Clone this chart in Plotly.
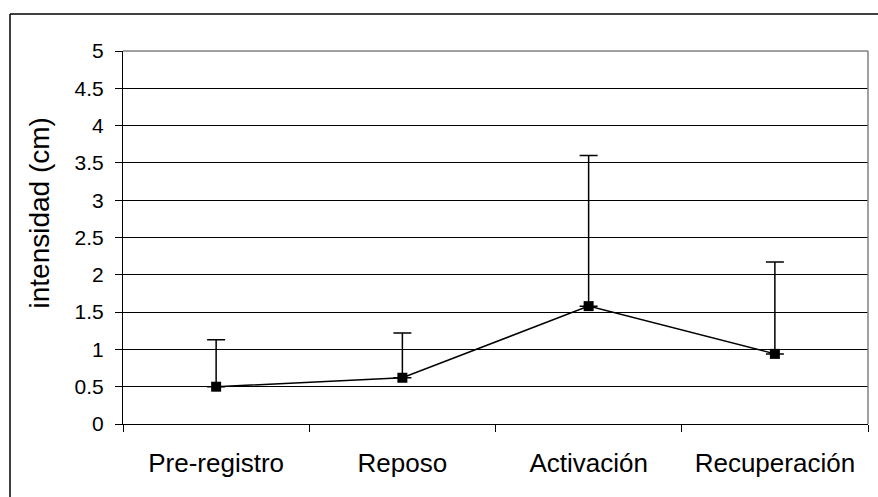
import plotly.graph_objects as go

categories = ["Pre-registro", "Reposo", "Activación", "Recuperación"]
means = [0.50, 0.62, 1.58, 0.94]
err_plus = [0.63, 0.60, 2.02, 1.23]
y_ticks = [0, 0.5, 1, 1.5, 2, 2.5, 3, 3.5, 4, 4.5, 5]
y_title = "intensidad (cm)"

W, H = 878, 497
L, R, T, B = 123, 10, 51, 73
pw, ph = W - L - R, H - T - B

def px_x(x):
    return (x - L) / pw

def px_y(y):
    return (H - B - y) / ph

FONT = "Liberation Sans, Arial, sans-serif"

fig = go.Figure()
fig.add_trace(go.Scatter(
    x=categories, y=means, mode="lines+markers",
    line=dict(color="black", width=1.5),
    marker=dict(symbol="square", size=10, color="black"),
    error_y=dict(type="data", symmetric=False, array=err_plus,
                 arrayminus=[0] * len(means), color="black",
                 thickness=1.5, width=9),
    showlegend=False,
))

fig.update_layout(
    width=W, height=H,
    margin=dict(l=L, r=R, t=T, b=B, pad=0),
    paper_bgcolor="white", plot_bgcolor="white",
    font=dict(family=FONT, color="black"),
    xaxis=dict(
        type="category", range=[-0.5, 3.5],
        tickson="boundaries", ticks="outside", ticklen=7, tickwidth=1,
        tickcolor="black", showgrid=False, showline=True,
        linecolor="black", linewidth=1,
        tickfont=dict(size=26, family=FONT, color="black"),
        ticklabelstandoff=16,
    ),
    yaxis=dict(
        range=[0, 5], tickvals=y_ticks,
        ticktext=[("%g" % v) for v in y_ticks],
        ticks="outside", ticklen=7, tickwidth=1, tickcolor="black",
        showgrid=True, gridcolor="black", gridwidth=1,
        showline=True, linecolor="black", linewidth=1,
        zeroline=False,
        tickfont=dict(size=21, family=FONT, color="black"),
        ticklabelstandoff=7,
    ),
    annotations=[dict(
        text=y_title, textangle=-90, showarrow=False,
        xref="paper", yref="paper", x=px_x(39), y=px_y(213.5),
        xanchor="center", yanchor="middle",
        font=dict(size=28, family=FONT, color="black"),
    )],
    shapes=[
        dict(type="line", xref="paper", yref="paper", x0=1, x1=1, y0=0, y1=1,
             line=dict(color="#808080", width=1.5)),
        dict(type="line", xref="paper", yref="paper", x0=0, x1=1, y0=1, y1=1,
             line=dict(color="#808080", width=1.5)),
        dict(type="line", xref="paper", yref="paper",
             x0=px_x(10), x1=px_x(W + 5), y0=px_y(14), y1=px_y(14),
             line=dict(color="black", width=1.5)),
        dict(type="line", xref="paper", yref="paper",
             x0=px_x(10), x1=px_x(10), y0=px_y(14), y1=px_y(H + 5),
             line=dict(color="black", width=1.5)),
    ],
)

fig.write_html(
    "out.html",
    config={"displayModeBar": False},
    post_script="document.body.style.margin='0';document.body.style.overflow='hidden';",
)
